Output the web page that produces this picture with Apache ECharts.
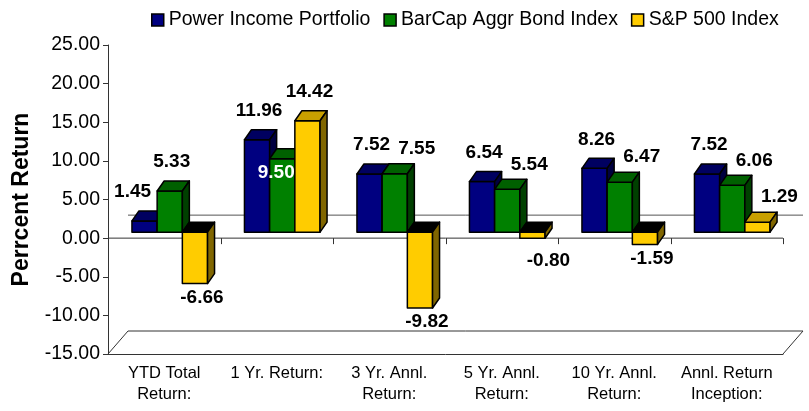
<!DOCTYPE html>
<html lang="en">
<head>
    <meta charset="UTF-8">
    <title>Power Income Portfolio</title>
    <style>
        html, body { margin: 0; padding: 0; background: #fff; }
        #main { width: 809px; height: 411px; }
    </style>
</head>
<body>
    <div id="main"></div>
</body>
<script type="text/javascript" src="https://cdn.jsdelivr.net/npm/echarts@6/dist/echarts.min.js"></script>
<script type="text/javascript">
    var categories = ['YTD Total\nReturn:', '1 Yr. Return:', '3 Yr. Annl.\nReturn:', '5 Yr. Annl.\nReturn:', '10 Yr. Annl.\nReturn:', 'Annl. Return\nInception:'];
    var seriesNames = ['Power Income Portfolio', 'BarCap Aggr Bond Index', 'S&P 500 Index'];
    var powerIncome = [1.45, 11.96, 7.52, 6.54, 8.26, 7.52];
    var barcapBond = [5.33, 9.50, 7.55, 5.54, 6.47, 6.06];
    var sp500 = [-6.66, 14.42, -9.82, -0.80, -1.59, 1.29];
    var yTicks = [-15, -10, -5, 0, 5, 10, 15, 20, 25];

    var values = [powerIncome, barcapBond, sp500];

    var FONT = '"Liberation Sans", Arial, sans-serif';
    // fake 3d: bars sit a bit behind the front plane, floor goes further back
    var BAR_SHIFT = [5.5, -6];
    var BAR_DEPTH = [7, -10];
    var FLOOR_DEPTH = [20, -23];
    var INSIDE_LABEL = {series: 1, cat: 1};   // excel drew this one white, inside the bar

    var faceColors = [
        {front: '#000080', top: '#000060', side: '#000040'},
        {front: '#008000', top: '#006000', side: '#004000'},
        {front: '#ffcc00', top: '#c8a000', side: '#806600'}
    ];

    var myChart = echarts.init(document.getElementById('main'));

    function poly(points, fill) {
        return {
            type: 'polygon',
            shape: {points: points},
            style: {fill: fill, stroke: '#000', lineWidth: 1.5, lineJoin: 'round'}
        };
    }

    function makeBarRenderer(s) {
        return function (params, api) {
            var cat = api.value(0), val = api.value(1);
            var bw = api.size([1, 0])[0] * 0.224;
            var base = api.coord([cat, 0]);
            var end = api.coord([cat, val]);
            var x0 = base[0] - 1.5 * bw + s * bw + BAR_SHIFT[0];
            var x1 = x0 + bw;
            var yb = base[1] + BAR_SHIFT[1], ye = end[1] + BAR_SHIFT[1];
            var top = Math.min(yb, ye), bot = Math.max(yb, ye);
            var dx = BAR_DEPTH[0], dy = BAR_DEPTH[1];
            var c = faceColors[s];

            var front = poly([[x0, top], [x1, top], [x1, bot], [x0, bot]], c.front);
            var topFace = poly([[x0, top], [x1, top], [x1 + dx, top + dy], [x0 + dx, top + dy]], val >= 0 ? c.top : '#000');
            var side = poly([[x1, top], [x1 + dx, top + dy], [x1 + dx, bot + dy], [x1, bot]], c.side);

            // label placement: step aside when a neighbour bar is taller
            var prev = s > 0 ? values[s - 1][cat] : null;
            var next = s < values.length - 1 ? values[s + 1][cat] : null;
            var lx = (x0 + x1) / 2 + 2, ly, fill = '#000';
            if (s === INSIDE_LABEL.series && cat === INSIDE_LABEL.cat) {
                lx = (x0 + x1) / 2 - 6;
                ly = top + 14;
                fill = '#fff';
            } else if (val >= 0) {
                ly = top + dy - 19;
                if (prev !== null && prev >= val - 0.1) {
                    lx += 20;
                    ly += 4;
                } else if (next !== null && next > val + 1) {
                    lx -= 14;
                }
            } else {
                ly = bot + 14;
                lx += 5;
                if (val > -1) {
                    ly += 8;
                    lx += 9;
                }
            }
            var label = {
                type: 'text',
                z2: 10,
                style: {
                    text: val.toFixed(2), x: lx, y: ly, fill: fill,
                    font: 'bold 19px ' + FONT, align: 'center', verticalAlign: 'middle'
                }
            };
            return {type: 'group', children: [front, topFace, side, label]};
        };
    }

    function renderDeco(params, api) {
        var cs = params.coordSys;
        var zero = api.coord([0, 0])[1];
        var band = api.size([1, 0])[0];
        var fx = FLOOR_DEPTH[0], fy = FLOOR_DEPTH[1];
        var bottom = cs.y + cs.height;
        var children = [
            {
                type: 'polyline',
                shape: {points: [[cs.x, bottom], [cs.x + fx, bottom + fy], [cs.x + cs.width + fx, bottom + fy], [cs.x + cs.width, bottom]]},
                style: {stroke: '#333', lineWidth: 1, fill: null}
            },
            {
                type: 'line',
                shape: {x1: cs.x + fx, y1: zero + fy, x2: cs.x + cs.width + fx, y2: zero + fy},
                style: {stroke: '#555', lineWidth: 1}
            },
            {
                type: 'line',
                shape: {x1: cs.x, y1: zero, x2: cs.x + cs.width, y2: zero},
                style: {stroke: '#333', lineWidth: 1}
            }
        ];
        for (var i = 1; i <= categories.length; i++) {
            var tx = Math.round(cs.x + i * band) + 0.5;
            children.push({
                type: 'line',
                shape: {x1: tx, y1: zero, x2: tx, y2: zero + 6},
                style: {stroke: '#333', lineWidth: 1}
            });
        }
        return {type: 'group', children: children};
    }

    function initCharts() {
        var series = [{
            name: 'deco',
            type: 'custom',
            silent: true,
            z: 1,
            clip: false,
            renderItem: renderDeco,
            data: [[0, 0]],
            encode: {x: 0, y: 1}
        }];
        for (var s = 0; s < values.length; s++) {
            series.push({
                name: seriesNames[s],
                type: 'custom',
                z: 2 + s,
                clip: false,
                itemStyle: {color: faceColors[s].front},
                renderItem: makeBarRenderer(s),
                encode: {x: 0, y: 1},
                data: values[s].map(function (v, i) { return [i, v]; })
            });
        }

        var option = {
            animation: false,
            textStyle: {fontFamily: FONT},
            legend: {
                data: seriesNames,
                left: 151,
                top: 10,
                padding: 0,
                icon: 'rect',
                itemWidth: 12,
                itemHeight: 12,
                itemGap: 13,
                itemStyle: {borderColor: '#000', borderWidth: 1.5},
                textStyle: {fontSize: 19.5, color: '#000', fontFamily: FONT}
            },
            grid: {left: 108, right: 26, top: 45, bottom: 57},
            xAxis: {
                type: 'category',
                data: categories,
                position: 'bottom',
                axisLine: {onZero: false, lineStyle: {color: '#333', width: 1}},
                axisTick: {length: 5, lineStyle: {color: '#333'}},
                axisLabel: {interval: 0, fontSize: 16.5, lineHeight: 21, margin: 9, color: '#000', fontFamily: FONT}
            },
            yAxis: {
                type: 'value',
                min: yTicks[0],
                max: yTicks[yTicks.length - 1],
                interval: yTicks[1] - yTicks[0],
                axisLine: {show: true, lineStyle: {color: '#333', width: 1}},
                axisTick: {show: true, length: 5, lineStyle: {color: '#333'}},
                splitLine: {show: false},
                axisLabel: {
                    fontSize: 19.5, margin: 8, color: '#000', fontFamily: FONT,
                    formatter: function (v) { return v.toFixed(2); }
                },
                name: 'Perrcent Return',
                nameLocation: 'middle',
                nameGap: 75,
                nameTextStyle: {fontSize: 23, fontWeight: 'bold', color: '#000', fontFamily: FONT}
            },
            series: series
        };
        myChart.clear();
        myChart.setOption(option);
    }

    initCharts();
</script>
</html>
